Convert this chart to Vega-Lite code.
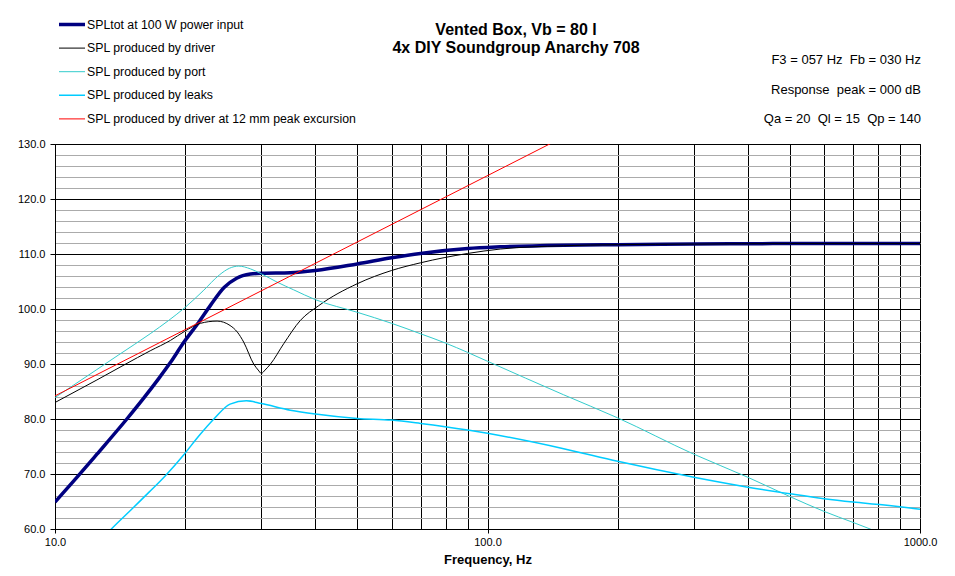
{
  "$schema": "https://vega.github.io/schema/vega-lite/v6.json",
  "width": 865,
  "height": 385,
  "autosize": {"type": "none"},
  "padding": {"left": 55, "top": 144, "right": 35, "bottom": 47},
  "background": "white",
  "config": {
    "view": {"stroke": "black", "strokeWidth": 1},
    "font": "Liberation Sans"
  },
  "data": {
    "values": [
      {"series": "SPLtot at 100 W power input", "f": 10, "spl": 64.9},
      {"series": "SPLtot at 100 W power input", "f": 11.3, "spl": 69.6},
      {"series": "SPLtot at 100 W power input", "f": 12.5, "spl": 73.6},
      {"series": "SPLtot at 100 W power input", "f": 14.66, "spl": 80.0},
      {"series": "SPLtot at 100 W power input", "f": 16, "spl": 83.7},
      {"series": "SPLtot at 100 W power input", "f": 17.35, "spl": 87.3},
      {"series": "SPLtot at 100 W power input", "f": 18.5, "spl": 90.3},
      {"series": "SPLtot at 100 W power input", "f": 19.8, "spl": 93.8},
      {"series": "SPLtot at 100 W power input", "f": 21.5, "spl": 97.6},
      {"series": "SPLtot at 100 W power input", "f": 22.9, "spl": 100.7},
      {"series": "SPLtot at 100 W power input", "f": 24.6, "spl": 103.9},
      {"series": "SPLtot at 100 W power input", "f": 26.3, "spl": 105.6},
      {"series": "SPLtot at 100 W power input", "f": 28.3, "spl": 106.35},
      {"series": "SPLtot at 100 W power input", "f": 30, "spl": 106.5},
      {"series": "SPLtot at 100 W power input", "f": 35, "spl": 106.6},
      {"series": "SPLtot at 100 W power input", "f": 40, "spl": 107.0},
      {"series": "SPLtot at 100 W power input", "f": 50, "spl": 108.2},
      {"series": "SPLtot at 100 W power input", "f": 60, "spl": 109.3},
      {"series": "SPLtot at 100 W power input", "f": 70, "spl": 110.1},
      {"series": "SPLtot at 100 W power input", "f": 90, "spl": 111.0},
      {"series": "SPLtot at 100 W power input", "f": 107, "spl": 111.3},
      {"series": "SPLtot at 100 W power input", "f": 150, "spl": 111.6},
      {"series": "SPLtot at 100 W power input", "f": 200, "spl": 111.7},
      {"series": "SPLtot at 100 W power input", "f": 300, "spl": 111.8},
      {"series": "SPLtot at 100 W power input", "f": 500, "spl": 111.9},
      {"series": "SPLtot at 100 W power input", "f": 1000, "spl": 111.9},

      {"series": "SPL produced by driver", "f": 10, "spl": 83.0},
      {"series": "SPL produced by driver", "f": 12.5, "spl": 87.1},
      {"series": "SPL produced by driver", "f": 14.5, "spl": 89.9},
      {"series": "SPL produced by driver", "f": 16.6, "spl": 92.4},
      {"series": "SPL produced by driver", "f": 18.5, "spl": 94.3},
      {"series": "SPL produced by driver", "f": 19.9, "spl": 95.9},
      {"series": "SPL produced by driver", "f": 21.7, "spl": 97.4},
      {"series": "SPL produced by driver", "f": 23.7, "spl": 97.8},
      {"series": "SPL produced by driver", "f": 25.4, "spl": 97.0},
      {"series": "SPL produced by driver", "f": 26.4, "spl": 95.8},
      {"series": "SPL produced by driver", "f": 27.3, "spl": 94.0},
      {"series": "SPL produced by driver", "f": 28.8, "spl": 90.0},
      {"series": "SPL produced by driver", "f": 29.5, "spl": 88.9},
      {"series": "SPL produced by driver", "f": 30, "spl": 88.3},
      {"series": "SPL produced by driver", "f": 30.6, "spl": 88.9},
      {"series": "SPL produced by driver", "f": 31.5, "spl": 90.0},
      {"series": "SPL produced by driver", "f": 33.8, "spl": 93.7},
      {"series": "SPL produced by driver", "f": 36.9, "spl": 97.9},
      {"series": "SPL produced by driver", "f": 40.7, "spl": 100.6},
      {"series": "SPL produced by driver", "f": 50, "spl": 104.6},
      {"series": "SPL produced by driver", "f": 60, "spl": 107.0},
      {"series": "SPL produced by driver", "f": 70, "spl": 108.4},
      {"series": "SPL produced by driver", "f": 90, "spl": 110.1},
      {"series": "SPL produced by driver", "f": 107, "spl": 110.9},
      {"series": "SPL produced by driver", "f": 150, "spl": 111.5},
      {"series": "SPL produced by driver", "f": 200, "spl": 111.7},
      {"series": "SPL produced by driver", "f": 300, "spl": 111.8},
      {"series": "SPL produced by driver", "f": 500, "spl": 111.9},
      {"series": "SPL produced by driver", "f": 1000, "spl": 111.9},

      {"series": "SPL produced by port", "f": 10, "spl": 83.9},
      {"series": "SPL produced by port", "f": 12.5, "spl": 89.0},
      {"series": "SPL produced by port", "f": 14, "spl": 91.6},
      {"series": "SPL produced by port", "f": 16.6, "spl": 95.5},
      {"series": "SPL produced by port", "f": 18.3, "spl": 97.9},
      {"series": "SPL produced by port", "f": 20, "spl": 100.3},
      {"series": "SPL produced by port", "f": 22, "spl": 103.3},
      {"series": "SPL produced by port", "f": 24, "spl": 106.2},
      {"series": "SPL produced by port", "f": 25.3, "spl": 107.4},
      {"series": "SPL produced by port", "f": 26.6, "spl": 107.8},
      {"series": "SPL produced by port", "f": 28.3, "spl": 107.3},
      {"series": "SPL produced by port", "f": 30, "spl": 106.4},
      {"series": "SPL produced by port", "f": 32.6, "spl": 104.9},
      {"series": "SPL produced by port", "f": 35.6, "spl": 103.5},
      {"series": "SPL produced by port", "f": 40, "spl": 101.7},
      {"series": "SPL produced by port", "f": 50, "spl": 99.4},
      {"series": "SPL produced by port", "f": 60, "spl": 97.4},
      {"series": "SPL produced by port", "f": 70, "spl": 95.5},
      {"series": "SPL produced by port", "f": 80, "spl": 93.8},
      {"series": "SPL produced by port", "f": 90, "spl": 92.1},
      {"series": "SPL produced by port", "f": 100, "spl": 90.5},
      {"series": "SPL produced by port", "f": 150, "spl": 84.4},
      {"series": "SPL produced by port", "f": 200, "spl": 80.2},
      {"series": "SPL produced by port", "f": 300, "spl": 73.6},
      {"series": "SPL produced by port", "f": 400, "spl": 69.4},
      {"series": "SPL produced by port", "f": 500, "spl": 65.9},
      {"series": "SPL produced by port", "f": 600, "spl": 63.2},
      {"series": "SPL produced by port", "f": 700, "spl": 61.2},
      {"series": "SPL produced by port", "f": 767, "spl": 60.0},
      {"series": "SPL produced by port", "f": 850, "spl": 58.5},

      {"series": "SPL produced by leaks", "f": 12.8, "spl": 58.0},
      {"series": "SPL produced by leaks", "f": 13.5, "spl": 60.0},
      {"series": "SPL produced by leaks", "f": 15, "spl": 63.5},
      {"series": "SPL produced by leaks", "f": 16.5, "spl": 66.7},
      {"series": "SPL produced by leaks", "f": 18, "spl": 69.7},
      {"series": "SPL produced by leaks", "f": 19.9, "spl": 73.6},
      {"series": "SPL produced by leaks", "f": 21.5, "spl": 76.9},
      {"series": "SPL produced by leaks", "f": 23.3, "spl": 80.0},
      {"series": "SPL produced by leaks", "f": 25.4, "spl": 82.7},
      {"series": "SPL produced by leaks", "f": 27.7, "spl": 83.3},
      {"series": "SPL produced by leaks", "f": 30, "spl": 82.8},
      {"series": "SPL produced by leaks", "f": 35, "spl": 81.6},
      {"series": "SPL produced by leaks", "f": 40, "spl": 80.9},
      {"series": "SPL produced by leaks", "f": 50, "spl": 80.1},
      {"series": "SPL produced by leaks", "f": 60, "spl": 79.8},
      {"series": "SPL produced by leaks", "f": 70, "spl": 79.2},
      {"series": "SPL produced by leaks", "f": 90, "spl": 78.0},
      {"series": "SPL produced by leaks", "f": 100, "spl": 77.4},
      {"series": "SPL produced by leaks", "f": 150, "spl": 74.6},
      {"series": "SPL produced by leaks", "f": 200, "spl": 72.3},
      {"series": "SPL produced by leaks", "f": 300, "spl": 69.4},
      {"series": "SPL produced by leaks", "f": 400, "spl": 67.6},
      {"series": "SPL produced by leaks", "f": 500, "spl": 66.4},
      {"series": "SPL produced by leaks", "f": 600, "spl": 65.5},
      {"series": "SPL produced by leaks", "f": 700, "spl": 64.9},
      {"series": "SPL produced by leaks", "f": 817, "spl": 64.4},
      {"series": "SPL produced by leaks", "f": 1000, "spl": 63.6},

      {"series": "SPL produced by driver at 12 mm peak excursion", "f": 10, "spl": 84.2},
      {"series": "SPL produced by driver at 12 mm peak excursion", "f": 150, "spl": 131.3}
    ]
  },
  "layer": [
    {
      "mark": {"type": "line", "clip": true, "interpolate": "monotone"},
      "encoding": {
        "x": {
          "field": "f",
          "type": "quantitative",
          "scale": {"type": "log", "domain": [10, 1000], "nice": false},
          "axis": {
            "title": "Frequency, Hz",
            "titleFont": "Liberation Sans",
            "titleFontSize": 13,
            "titleFontWeight": "bold",
            "titleColor": "black",
            "titlePadding": 6,
            "values": [10, 20, 30, 40, 50, 60, 70, 80, 90, 100, 200, 300, 400, 500, 600, 700, 800, 900, 1000],
            "tickCount": 40,
            "labelExpr": "datum.value == 10 || datum.value == 100 || datum.value == 1000 ? format(datum.value, '.1f') : ''",
            "labelFont": "Liberation Sans",
            "labelFontSize": 11,
            "labelColor": "black",
            "labelFlush": false,
            "labelOverlap": false,
            "labelPadding": 3,
            "tickSize": 4,
            "tickColor": "black",
            "tickOpacity": {"condition": {"test": "datum.value == 10 || datum.value == 100 || datum.value == 1000", "value": 1}, "value": 0},
            "domainColor": "black",
            "grid": true,
            "gridColor": "black",
            "gridWidth": 1
          }
        },
        "y": {
          "field": "spl",
          "type": "quantitative",
          "scale": {"domain": [60, 130], "nice": false, "zero": false},
          "axis": {
            "title": null,
            "values": [60, 62, 64, 66, 68, 70, 72, 74, 76, 78, 80, 82, 84, 86, 88, 90, 92, 94, 96, 98, 100, 102, 104, 106, 108, 110, 112, 114, 116, 118, 120, 122, 124, 126, 128, 130],
            "tickCount": 40,
            "labelExpr": "datum.value % 10 == 0 ? format(datum.value, '.1f') : ''",
            "labelFont": "Liberation Sans",
            "labelFontSize": 11,
            "labelColor": "black",
            "labelOverlap": false,
            "labelPadding": 5,
            "tickSize": 5,
            "tickColor": "black",
            "tickOpacity": {"condition": {"test": "datum.value % 10 == 0", "value": 1}, "value": 0},
            "domainColor": "black",
            "grid": true,
            "gridColor": {"condition": {"test": "datum.value % 10 == 0", "value": "black"}, "value": "#ababab"},
            "gridWidth": 1
          }
        },
        "color": {
          "field": "series",
          "type": "nominal",
          "scale": {
            "domain": [
              "SPLtot at 100 W power input",
              "SPL produced by driver",
              "SPL produced by port",
              "SPL produced by leaks",
              "SPL produced by driver at 12 mm peak excursion"
            ],
            "range": ["#000080", "#000000", "#33CCCC", "#00CCFF", "#FF0000"]
          },
          "legend": {
            "orient": "none",
            "legendX": 2,
            "legendY": -125.5,
            "title": null,
            "symbolType": "stroke",
            "symbolSize": 676,
            "clipHeight": 12,
            "rowPadding": 10.6,
            "labelOffset": 0,
            "labelFont": "Liberation Sans",
            "labelFontSize": 12.3,
            "labelColor": "black",
            "labelLimit": 400
          }
        },
        "strokeWidth": {
          "field": "series",
          "type": "nominal",
          "scale": {
            "type": "ordinal",
            "domain": [
              "SPLtot at 100 W power input",
              "SPL produced by driver",
              "SPL produced by port",
              "SPL produced by leaks",
              "SPL produced by driver at 12 mm peak excursion"
            ],
            "range": [3.5, 1, 1, 1.5, 1]
          }
        }
      }
    },
    {
      "data": {"values": [{}]},
      "mark": {"type": "text", "align": "center", "baseline": "middle", "font": "Liberation Sans", "fontSize": 16, "fontWeight": "bold", "lineHeight": 18.5, "color": "black"},
      "encoding": {
        "x": {"datum": 116.4, "type": "quantitative"},
        "y": {"datum": 150.8, "type": "quantitative"},
        "text": {"value": ["Vented Box, Vb = 80 l", "4x DIY Soundgroup Anarchy 708"]}
      }
    },
    {
      "data": {"values": [{}]},
      "mark": {"type": "text", "align": "right", "baseline": "middle", "font": "Liberation Sans", "fontSize": 13, "color": "black", "dx": 1},
      "encoding": {
        "x": {"datum": 1000, "type": "quantitative"},
        "y": {"datum": 145.3, "type": "quantitative"},
        "text": {"value": "F3 = 057 Hz\u00a0 Fb = 030 Hz"}
      }
    },
    {
      "data": {"values": [{}]},
      "mark": {"type": "text", "align": "right", "baseline": "middle", "font": "Liberation Sans", "fontSize": 13, "color": "black", "dx": 1},
      "encoding": {
        "x": {"datum": 1000, "type": "quantitative"},
        "y": {"datum": 139.8, "type": "quantitative"},
        "text": {"value": "Response\u00a0 peak = 000 dB"}
      }
    },
    {
      "data": {"values": [{}]},
      "mark": {"type": "text", "align": "right", "baseline": "middle", "font": "Liberation Sans", "fontSize": 13, "color": "black", "dx": 1},
      "encoding": {
        "x": {"datum": 1000, "type": "quantitative"},
        "y": {"datum": 134.5, "type": "quantitative"},
        "text": {"value": "Qa = 20\u00a0 Ql = 15\u00a0 Qp = 140"}
      }
    }
  ]
}
